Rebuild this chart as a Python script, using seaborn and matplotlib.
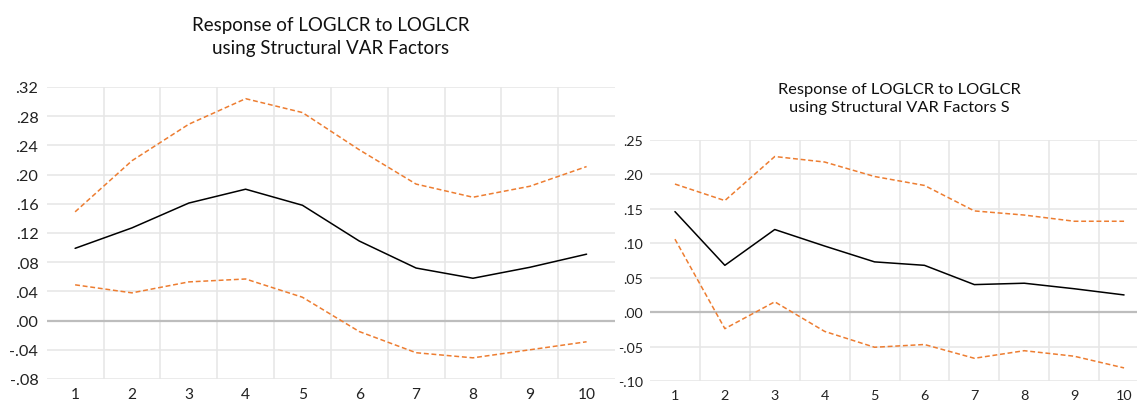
import numpy as np
import pandas as pd
import matplotlib
matplotlib.use("Agg")
import matplotlib.pyplot as plt
import seaborn as sns

# ---- data ----
periods = [1, 2, 3, 4, 5, 6, 7, 8, 9, 10]

left_response = [0.099, 0.127, 0.161, 0.180, 0.158, 0.109, 0.072, 0.058, 0.073, 0.091]
left_upper = [0.149, 0.219, 0.269, 0.304, 0.285, 0.234, 0.187, 0.169, 0.184, 0.211]
left_lower = [0.049, 0.038, 0.053, 0.057, 0.032, -0.015, -0.044, -0.051, -0.040, -0.029]

right_response = [0.146, 0.068, 0.120, 0.096, 0.073, 0.068, 0.040, 0.042, 0.034, 0.025]
right_upper = [0.186, 0.162, 0.226, 0.218, 0.197, 0.184, 0.147, 0.141, 0.132, 0.132]
right_lower = [0.106, -0.024, 0.015, -0.028, -0.051, -0.047, -0.067, -0.056, -0.064, -0.081]

left_title = "Response of LOGLCR to LOGLCR\nusing Structural VAR Factors"
right_title = "Response of LOGLCR to LOGLCR\nusing Structural VAR Factors S"

left_yticks = [-0.08, -0.04, 0.00, 0.04, 0.08, 0.12, 0.16, 0.20, 0.24, 0.28, 0.32]
right_yticks = [-0.10, -0.05, 0.00, 0.05, 0.10, 0.15, 0.20, 0.25]

sns.set_theme(style="white")
plt.rcParams['font.family'] = ['Lato', 'DejaVu Sans']

W, H = 1137, 406
fig = plt.figure(figsize=(W / 100, H / 100), dpi=100)

ORANGE = "#ED7D31"
GRID = "#e6e6e6"
ZERO = "#bdbdbd"


def fmt(v):
    s = f"{v:.2f}"
    return s.replace("0.", ".", 1)


def panel(rect, resp, up, lo, yticks, tick_fs, xtick_fs, ypad, xpad):
    ax = fig.add_axes(rect)
    df = pd.DataFrame({"period": periods * 3,
                       "value": resp + up + lo,
                       "series": ["resp"] * 10 + ["up"] * 10 + ["lo"] * 10})
    sns.lineplot(data=df[df.series == "up"], x="period", y="value", ax=ax,
                 color=ORANGE, lw=1.1, dashes=False, linestyle=(0, (3.2, 1.8)), zorder=3)
    sns.lineplot(data=df[df.series == "lo"], x="period", y="value", ax=ax,
                 color=ORANGE, lw=1.1, dashes=False, linestyle=(0, (3.2, 1.8)), zorder=3)
    sns.lineplot(data=df[df.series == "resp"], x="period", y="value", ax=ax,
                 color="black", lw=1.1, zorder=4)
    ax.set_xlim(0.5, 10.5)
    ax.set_ylim(yticks[0], yticks[-1])
    ax.set_yticks(yticks)
    ax.set_yticklabels([fmt(v) for v in yticks], fontsize=tick_fs, color="#222222")
    ax.set_xticks(periods)
    ax.set_xticklabels([str(p) for p in periods], fontsize=xtick_fs, color="#222222")
    for y in yticks:
        if abs(y) < 1e-9:
            ax.axhline(0, color=ZERO, lw=1.6, zorder=2)
        else:
            ax.axhline(y, color=GRID, lw=1.1, zorder=1)
    for x in np.arange(1.5, 10.5, 1.0):
        ax.axvline(x, color=GRID, lw=1.1, zorder=1)
    for s in ax.spines.values():
        s.set_visible(False)
    ax.tick_params(axis="both", length=0)
    ax.tick_params(axis="y", pad=ypad)
    ax.tick_params(axis="x", pad=xpad)
    ax.set_xlabel("")
    ax.set_ylabel("")
    ax.grid(False)
    return ax


axL = panel([46.7 / W, 1 - 380 / H, (615 - 46.7) / W, (380 - 88) / H],
            left_response, left_upper, left_lower, left_yticks, 11.7, 11.2, 6, 6)
axR = panel([650 / W, 1 - 382 / H, 499 / W, (382 - 141) / H],
            right_response, right_upper, right_lower, right_yticks, 10.2, 10.4, 5, 6)

fig.text(331 / W, 1 - 37 / H, left_title, ha="center", va="center",
         fontsize=13.5, linespacing=1.45, color="#111111")
fig.text(899 / W, 1 - 99 / H, right_title, ha="center", va="center",
         fontsize=11.8, linespacing=1.45, color="#111111")

fig.savefig("out.png", dpi=100)
